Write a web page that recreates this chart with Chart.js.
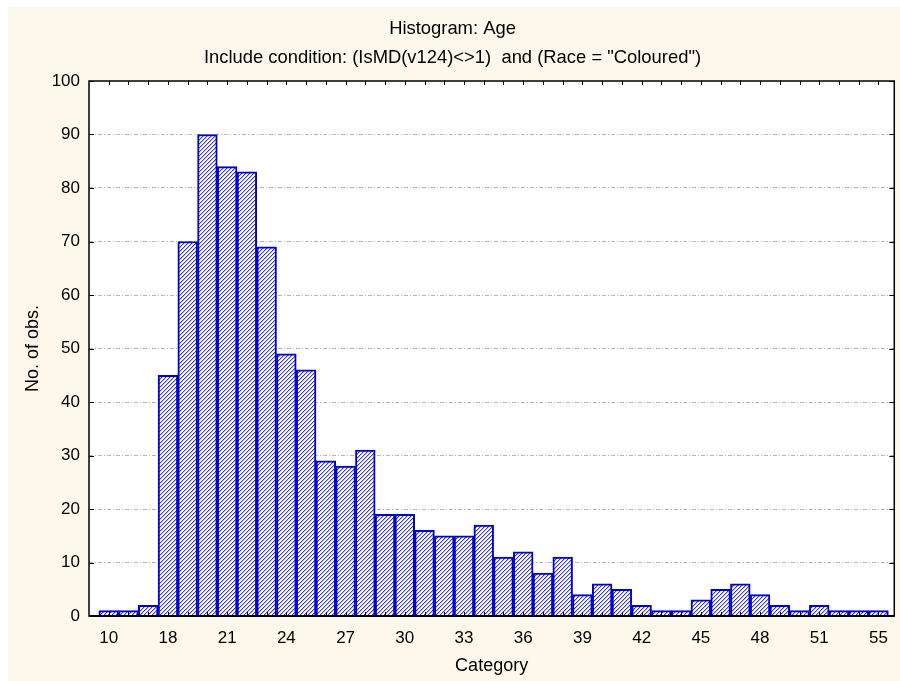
<!DOCTYPE html>
<html>
<head>
<meta charset="utf-8">
<title>Histogram: Age</title>
<script src="https://cdn.jsdelivr.net/npm/chart.js@4.4.1/dist/chart.umd.min.js"></script>
<style>
  body { margin: 0; background: #fff; }
  #wrap { position: absolute; left: 8px; top: 7px; }
</style>
</head>
<body>
<div id="wrap"><canvas id="histChart" width="892" height="674"></canvas></div>
<script>
// age categories present in the data (only every third one is labelled)
const categories = ["10", "16", "17", "18", "19", "20", "21", "22", "23", "24",
    "25", "26", "27", "28", "29", "30", "31", "32", "33", "34",
    "35", "36", "37", "38", "39", "40", "41", "42", "43", "44",
    "45", "46", "47", "48", "49", "50", "51", "52", "53", "55"];
const counts = [1, 1, 2, 45, 70, 90, 84, 83, 69, 49,
    46, 29, 28, 31, 19, 19, 16, 15, 15, 17,
    11, 12, 8, 11, 4, 6, 5, 2, 1, 1,
    3, 5, 6, 4, 2, 1, 2, 1, 1, 1];
const yTicks = [0, 10, 20, 30, 40, 50, 60, 70, 80, 90, 100];
const titleLines = ["Histogram: Age", "Include condition: (IsMD(v124)<>1)  and (Race = \"Coloured\")"];

Chart.defaults.font.family = "'Liberation Sans', Arial, sans-serif";
Chart.defaults.font.size = 17;
Chart.defaults.color = "#000";

// diagonal hatch fill like the original
function makeHatch() {
    const n = 4;
    const c = document.createElement("canvas");
    c.width = n; c.height = n;
    const g = c.getContext("2d");
    g.fillStyle = "#ffffff";
    g.fillRect(0, 0, n, n);
    for (let i = 0; i < n; i++) {
        g.fillStyle = "#3434e2";
        g.fillRect(i, n - 1 - i, 1, 1);
        g.fillStyle = "#bdbdf6";
        g.fillRect(i, (n - i) % n, 1, 1);
    }
    return g.createPattern(c, "repeat");
}

// cream background, white plot area, black frame with inward ticks
const framePlugin = {
    id: "frame",
    beforeDraw(chart) {
        const { ctx, chartArea: a } = chart;
        ctx.save();
        ctx.fillStyle = "#fdf8ec";
        ctx.fillRect(0, 0, chart.width, chart.height);
        ctx.fillStyle = "#ffffff";
        ctx.fillRect(a.left, a.top, a.right - a.left, a.bottom - a.top);
        ctx.restore();
    },
    afterDraw(chart) {
        const { ctx, chartArea: a, scales } = chart;
        ctx.save();
        ctx.strokeStyle = "#000";
        ctx.lineWidth = 1;
        ctx.beginPath();
        categories.forEach((c, i) => {
            const px = Math.round(scales.x.getPixelForValue(i)) + 0.5;
            ctx.moveTo(px, a.bottom); ctx.lineTo(px, a.bottom - 4);
            ctx.moveTo(px, a.top); ctx.lineTo(px, a.top + 4);
        });
        yTicks.forEach(v => {
            const py = Math.round(scales.y.getPixelForValue(v)) + 0.5;
            ctx.moveTo(a.left, py); ctx.lineTo(a.left + 5, py);
            ctx.moveTo(a.right, py); ctx.lineTo(a.right - 5, py);
        });
        ctx.stroke();
        ctx.lineWidth = 1.5;
        ctx.strokeRect(a.left, a.top, a.right - a.left, a.bottom - a.top);
        ctx.lineWidth = 2;
        ctx.beginPath();
        ctx.moveTo(a.left, a.bottom); ctx.lineTo(a.right, a.bottom);
        ctx.stroke();
        ctx.restore();
    }
};

const histCtx = document.getElementById("histChart").getContext("2d");

new Chart(histCtx, {
    type: "bar",
    data: {
        datasets: [{
            label: "No. of obs.",
            data: counts.map((v, i) => ({ x: i, y: v })),
            backgroundColor: makeHatch(),
            borderColor: "#0000cc",
            borderWidth: 2,
            borderSkipped: "bottom",
            barPercentage: 1,
            categoryPercentage: 1
        }]
    },
    options: {
        responsive: false,
        animation: false,
        layout: { padding: { left: 0, right: 3, top: 0, bottom: 0 } },
        plugins: {
            legend: { display: false },
            title: {
                display: true,
                text: titleLines,
                font: { size: 18.4, weight: "normal", lineHeight: "29px" },
                color: "#000",
                padding: { top: 7, bottom: 9 }
            }
        },
        scales: {
            x: {
                type: "linear",
                min: -1,
                max: 39.8,
                offset: false,
                grid: { display: false, drawTicks: false },
                border: { display: false },
                afterBuildTicks: s => { s.ticks = categories.map((c, i) => ({ value: i })); },
                afterFit: s => { s.height = 65; },
                ticks: {
                    autoSkip: false,
                    maxRotation: 0,
                    padding: 12,
                    callback: v => (Number.isInteger(v) && v % 3 === 0) ? categories[v] : ""
                },
                title: { display: true, text: "Category", font: { size: 18 }, padding: { top: 0, bottom: 4 } }
            },
            y: {
                min: 0,
                max: 100,
                afterBuildTicks: s => { s.ticks = yTicks.map(v => ({ value: v })); },
                afterFit: s => { s.width = 81; },
                grid: {
                    drawTicks: false,
                    lineWidth: 1,
                    color: c => (c.tick && (c.tick.value === 0 || c.tick.value === 100)) ? "rgba(0,0,0,0)" : "#b5b5b5"
                },
                border: { display: false, dash: [4, 2, 1, 2] },
                ticks: { padding: 9 },
                title: { display: true, text: "No. of obs.", font: { size: 18 }, padding: { top: 14 } }
            }
        }
    },
    plugins: [framePlugin]
});
</script>
</body>
</html>
